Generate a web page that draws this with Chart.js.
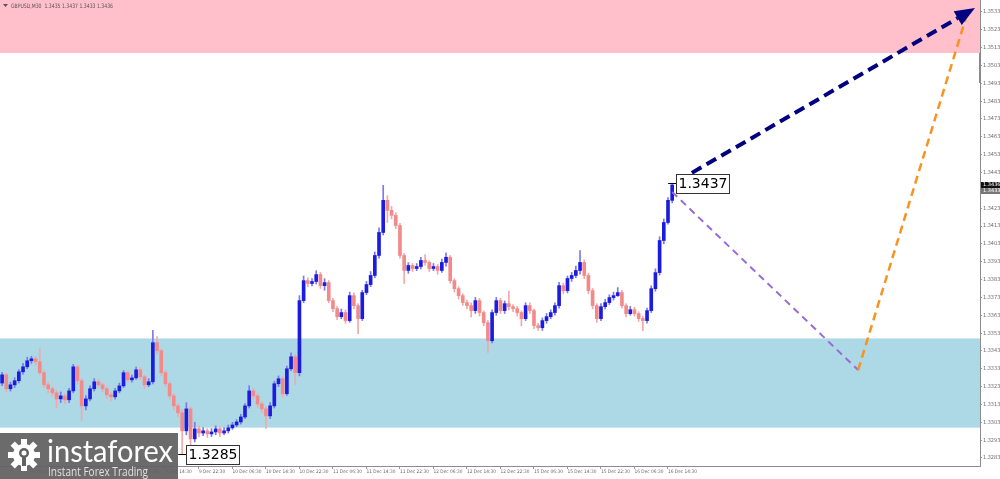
<!DOCTYPE html>
<html>
<head>
<meta charset="utf-8">
<script src="https://cdn.jsdelivr.net/npm/chart.js@4.4.1/dist/chart.umd.min.js"></script>
<style>
  html, body { margin: 0; padding: 0; background: #fff; }
  #wrap { width: 1000px; height: 479px; }
</style>
</head>
<body>
<div id="wrap"><canvas id="chart" width="1000" height="479"></canvas></div>
<script>
// GBPUSD candles (one per hour)
const opens = [
  1.33250,1.33296,1.33218,1.33240,1.33263,1.33313,1.33341,1.33375,1.33386,1.33369,
  1.33308,1.33240,1.33218,1.33195,1.33161,1.33178,1.33156,1.33206,1.33341,1.33263,
  1.33122,1.33161,1.33218,1.33257,1.33240,1.33218,1.33184,1.33173,1.33206,1.33234,
  1.33308,1.33268,1.33279,1.33324,1.33285,1.33240,1.33257,1.33476,1.33431,1.33308,
  1.33246,1.33178,1.33122,1.33083,1.32982,1.33105,1.32937,1.32993,1.32970,1.32982,
  1.32965,1.32976,1.32993,1.32970,1.32982,1.32999,1.33015,1.33032,1.33060,1.33122,
  1.33206,1.33178,1.33133,1.33105,1.33066,1.33122,1.33246,1.33274,1.33190,1.33330,
  1.33397,1.33308,1.33712,1.33824,1.33808,1.33819,1.33858,1.33796,1.33813,1.33712,
  1.33667,1.33622,1.33645,1.33600,1.33740,1.33684,1.33611,1.33757,1.33802,1.33853,
  1.33965,1.34094,1.34274,1.34218,1.34190,1.34133,1.33965,1.33881,1.33909,1.33892,
  1.33903,1.33937,1.33926,1.33892,1.33903,1.33881,1.33926,1.33955,1.33824,1.33779,
  1.33740,1.33701,1.33684,1.33656,1.33712,1.33645,1.33588,1.33487,1.33645,1.33712,
  1.33656,1.33695,1.33678,1.33667,1.33645,1.33611,1.33684,1.33656,1.33572,1.33560,
  1.33600,1.33622,1.33645,1.33684,1.33796,1.33768,1.33836,1.33853,1.33881,1.33926,
  1.33853,1.33768,1.33684,1.33611,1.33678,1.33701,1.33729,1.33740,1.33757,1.33684,
  1.33639,1.33661,1.33639,1.33611,1.33600,1.33656,1.33779,1.33869,1.34049,1.34150,
  1.34274
];
const highs = [
  1.33310,1.33305,1.33255,1.33280,1.33325,1.33360,1.33395,1.33400,1.33400,1.33445,
  1.33320,1.33255,1.33230,1.33210,1.33200,1.33190,1.33220,1.33355,1.33350,1.33275,
  1.33180,1.33235,1.33275,1.33270,1.33250,1.33230,1.33200,1.33220,1.33250,1.33320,
  1.33318,1.33295,1.33340,1.33335,1.33295,1.33275,1.33545,1.33510,1.33440,1.33320,
  1.33255,1.33190,1.33135,1.33100,1.33140,1.33115,1.33030,1.33010,1.33000,1.32995,
  1.32995,1.33010,1.33005,1.33000,1.33015,1.33030,1.33045,1.33075,1.33135,1.33235,
  1.33220,1.33190,1.33145,1.33120,1.33140,1.33260,1.33290,1.33285,1.33345,1.33420,
  1.33410,1.33740,1.33850,1.33840,1.33835,1.33880,1.33870,1.33835,1.33825,1.33725,
  1.33680,1.33665,1.33660,1.33760,1.33755,1.33695,1.33770,1.33820,1.33875,1.33985,
  1.34120,1.34358,1.34300,1.34240,1.34205,1.34145,1.33975,1.33925,1.33920,1.33920,
  1.33955,1.33970,1.33935,1.33920,1.33915,1.33945,1.33980,1.33965,1.33835,1.33790,
  1.33750,1.33715,1.33700,1.33730,1.33725,1.33655,1.33600,1.33660,1.33730,1.33725,
  1.33710,1.33765,1.33690,1.33680,1.33655,1.33700,1.33700,1.33665,1.33585,1.33615,
  1.33640,1.33660,1.33700,1.33815,1.33810,1.33850,1.33870,1.33905,1.33993,1.33940,
  1.33865,1.33780,1.33695,1.33695,1.33720,1.33745,1.33760,1.33785,1.33770,1.33695,
  1.33680,1.33675,1.33650,1.33625,1.33670,1.33795,1.33890,1.34070,1.34170,1.34290,
  1.34370
];
const lows = [
  1.33235,1.33200,1.33205,1.33225,1.33250,1.33300,1.33330,1.33360,1.33350,1.33295,
  1.33225,1.33195,1.33175,1.33110,1.33140,1.33135,1.33140,1.33195,1.33245,1.33040,
  1.33100,1.33150,1.33205,1.33225,1.33200,1.33165,1.33150,1.33160,1.33195,1.33225,
  1.33255,1.33255,1.33270,1.33270,1.33220,1.33230,1.33245,1.33410,1.33290,1.33230,
  1.33160,1.33100,1.33060,1.32850,1.32960,1.32890,1.32920,1.32950,1.32955,1.32945,
  1.32950,1.32960,1.32950,1.32960,1.32970,1.32990,1.33005,1.33020,1.33050,1.33110,
  1.33160,1.33115,1.33085,1.32995,1.33050,1.33110,1.33230,1.33170,1.33180,1.33320,
  1.33240,1.33290,1.33700,1.33790,1.33795,1.33805,1.33780,1.33770,1.33700,1.33650,
  1.33605,1.33610,1.33585,1.33590,1.33665,1.33527,1.33600,1.33745,1.33790,1.33840,
  1.33950,1.34080,1.34150,1.34170,1.34115,1.33950,1.33808,1.33865,1.33875,1.33880,
  1.33890,1.33910,1.33875,1.33880,1.33860,1.33870,1.33905,1.33810,1.33760,1.33720,
  1.33685,1.33665,1.33620,1.33640,1.33625,1.33570,1.33420,1.33475,1.33630,1.33640,
  1.33640,1.33660,1.33650,1.33625,1.33570,1.33600,1.33640,1.33555,1.33545,1.33545,
  1.33585,1.33610,1.33630,1.33670,1.33750,1.33755,1.33820,1.33840,1.33860,1.33835,
  1.33750,1.33665,1.33590,1.33600,1.33665,1.33690,1.33715,1.33735,1.33670,1.33620,
  1.33630,1.33625,1.33595,1.33544,1.33585,1.33645,1.33765,1.33855,1.34030,1.34140,
  1.34260
];
const closes = [
  1.33296,1.33218,1.33240,1.33263,1.33313,1.33341,1.33375,1.33386,1.33369,1.33308,
  1.33240,1.33218,1.33195,1.33161,1.33178,1.33156,1.33206,1.33341,1.33263,1.33122,
  1.33161,1.33218,1.33257,1.33240,1.33218,1.33184,1.33173,1.33206,1.33234,1.33308,
  1.33268,1.33279,1.33324,1.33285,1.33240,1.33257,1.33476,1.33431,1.33308,1.33246,
  1.33178,1.33122,1.33083,1.32982,1.33105,1.32937,1.32993,1.32970,1.32982,1.32965,
  1.32976,1.32993,1.32970,1.32982,1.32999,1.33015,1.33032,1.33060,1.33122,1.33206,
  1.33178,1.33133,1.33105,1.33066,1.33122,1.33246,1.33274,1.33190,1.33330,1.33397,
  1.33308,1.33712,1.33824,1.33808,1.33819,1.33858,1.33796,1.33813,1.33712,1.33667,
  1.33622,1.33645,1.33600,1.33740,1.33684,1.33611,1.33757,1.33802,1.33853,1.33965,
  1.34094,1.34274,1.34218,1.34190,1.34133,1.33965,1.33881,1.33909,1.33892,1.33903,
  1.33937,1.33926,1.33892,1.33903,1.33881,1.33926,1.33955,1.33824,1.33779,1.33740,
  1.33701,1.33684,1.33656,1.33712,1.33645,1.33588,1.33487,1.33645,1.33712,1.33656,
  1.33695,1.33678,1.33667,1.33645,1.33611,1.33684,1.33656,1.33572,1.33560,1.33600,
  1.33622,1.33645,1.33684,1.33796,1.33768,1.33836,1.33853,1.33881,1.33926,1.33853,
  1.33768,1.33684,1.33611,1.33678,1.33701,1.33729,1.33740,1.33757,1.33684,1.33639,
  1.33661,1.33639,1.33611,1.33600,1.33656,1.33779,1.33869,1.34049,1.34150,1.34274,
  1.34360
];

// slots on the time axis (candles + empty space on the right for the forecast)
const slotCount = 234;
const timeTickIndex = [7, 15, 23, 31, 39, 47, 55, 63, 71, 79, 87, 95, 103, 111, 119, 127, 135, 143, 151, 159];
const timeTickText = ['8 Dec 06:30', '8 Dec 14:30', '8 Dec 22:30', '9 Dec 06:30', '9 Dec 14:30', '9 Dec 22:30',
  '10 Dec 06:30', '10 Dec 14:30', '10 Dec 22:30', '11 Dec 06:30', '11 Dec 14:30', '11 Dec 22:30',
  '12 Dec 06:30', '12 Dec 14:30', '12 Dec 22:30', '15 Dec 06:30', '15 Dec 14:30', '15 Dec 22:30',
  '16 Dec 06:30', '16 Dec 14:30'];
const priceTicks = [1.3283, 1.3293, 1.3303, 1.3313, 1.3323, 1.3333, 1.3343, 1.3353, 1.3363, 1.3373,
  1.3383, 1.3393, 1.3403, 1.3413, 1.3423, 1.3433, 1.3443, 1.3453, 1.3463, 1.3473,
  1.3483, 1.3493, 1.3503, 1.3513, 1.3523, 1.3533];
const priceMin = 1.32785;
const priceMax = 1.35397;

// zones and forecast waves: [slot index, price]
const resistanceZone = [1.3510, 1.35397];
const supportZone = [1.3300, 1.3350];
const mainWave = [[161.2, 1.34380], [232.3, 1.35352]];
const correctionWave = [[160, 1.34321], [204.4, 1.33323]];
const impulseWave = [[204.4, 1.33323], [230.2, 1.35302]];
const markedHigh = { index: 160, text: '1.3437' };
const markedLow = { index: 43, text: '1.3285' };

const header = 'GBPUSD,M30  1.3435 1.3437 1.3433 1.3436';
const lastPrice = 1.3436;

const labels = Array.from({ length: slotCount }, (_, i) => {
  const k = timeTickIndex.indexOf(i);
  return k >= 0 ? timeTickText[k] : '';
});

const BULL = '#1c1ce0';
const BEAR = '#f28a8a';
const BULL_WICK = '#7b7be8';
const BEAR_WICK = '#f5a8a8';
const isBull = i => closes[i] >= opens[i];

const overlay = {
  id: 'overlay',
  beforeDatasetsDraw(chart) {
    const { ctx, chartArea: a, scales: { y } } = chart;
    ctx.save();
    ctx.fillStyle = '#ffc0cb';
    let t = y.getPixelForValue(resistanceZone[1]), b = y.getPixelForValue(resistanceZone[0]);
    ctx.fillRect(a.left, t, a.right - a.left, b - t);
    ctx.fillStyle = '#add8e6';
    t = y.getPixelForValue(supportZone[1]); b = y.getPixelForValue(supportZone[0]);
    ctx.fillRect(a.left, t, a.right - a.left, b - t);
    ctx.restore();
  },
  afterDatasetsDraw(chart) {
    const { ctx, chartArea: a, scales: { x, y } } = chart;
    const pt = p => [x.getPixelForValue(p[0]), y.getPixelForValue(p[1])];
    ctx.save();

    // correction wave (purple) and impulse wave (orange)
    const dashed = (w, color, width, dash) => {
      const [x0, y0] = pt(w[0]), [x1, y1] = pt(w[1]);
      ctx.strokeStyle = color; ctx.lineWidth = width; ctx.setLineDash(dash);
      ctx.beginPath(); ctx.moveTo(x0, y0); ctx.lineTo(x1, y1); ctx.stroke();
    };
    dashed(correctionWave, '#9a6ad8', 2, [7, 5]);
    dashed(impulseWave, '#f7931e', 2.5, [8, 5]);

    // main wave with arrow head
    const [mx0, my0] = pt(mainWave[0]), [mx1, my1] = pt(mainWave[1]);
    const ang = Math.atan2(my1 - my0, mx1 - mx0);
    const headLen = 20, headW = 8;
    const bx = mx1 - headLen * Math.cos(ang), by = my1 - headLen * Math.sin(ang);
    ctx.strokeStyle = '#000080'; ctx.lineWidth = 4; ctx.setLineDash([11, 6]);
    ctx.beginPath(); ctx.moveTo(mx0, my0); ctx.lineTo(bx, by); ctx.stroke();
    ctx.setLineDash([]);
    ctx.fillStyle = '#000080';
    ctx.beginPath();
    ctx.moveTo(mx1, my1);
    ctx.lineTo(bx + headW * Math.sin(ang), by - headW * Math.cos(ang));
    ctx.lineTo(bx - headW * Math.sin(ang), by + headW * Math.cos(ang));
    ctx.closePath(); ctx.fill();

    // price callouts
    const callout = (idx, price, text) => {
      const px = x.getPixelForValue(idx), py = y.getPixelForValue(price);
      ctx.strokeStyle = '#000'; ctx.lineWidth = 1;
      ctx.beginPath(); ctx.moveTo(px - 4, Math.round(py) + 0.5); ctx.lineTo(px + 4, Math.round(py) + 0.5); ctx.stroke();
      ctx.font = '14px "DejaVu Sans"';
      const w = ctx.measureText(text).width + 4;
      const bx0 = Math.round(px + 4) + 0.5, by0 = Math.round(py - 9) + 0.5;
      ctx.fillStyle = '#fff'; ctx.fillRect(bx0, by0, w, 19);
      ctx.strokeStyle = '#333'; ctx.strokeRect(bx0, by0, w, 19);
      ctx.fillStyle = '#000'; ctx.textBaseline = 'middle'; ctx.textAlign = 'left';
      ctx.fillText(text, bx0 + 2, by0 + 10);
    };
    callout(markedHigh.index, highs[markedHigh.index], markedHigh.text);
    callout(markedLow.index, lows[markedLow.index], markedLow.text);

    // current price tag on the price axis
    const ly = y.getPixelForValue(lastPrice);
    ctx.fillStyle = '#111'; ctx.fillRect(a.right + 1, ly - 3, 19, 6);
    ctx.fillStyle = '#777'; ctx.fillRect(a.right + 1, ly + 3, 19, 6);
    ctx.fillStyle = '#fff'; ctx.font = '5px "DejaVu Sans"'; ctx.textAlign = 'left';
    ctx.fillText(lastPrice.toFixed(4), a.right + 3, ly);
    ctx.fillText('1.3433', a.right + 3, ly + 6);

    // chart shift marker
    ctx.fillStyle = '#8a8a8a';
    ctx.fillRect(a.right - 1, 53, 2, 30);

    // header
    ctx.fillStyle = '#555';
    ctx.beginPath(); ctx.moveTo(3, 4); ctx.lineTo(8, 4); ctx.lineTo(5.5, 7); ctx.closePath(); ctx.fill();
    ctx.font = '6px "DejaVu Sans"'; ctx.textBaseline = 'middle';
    ctx.fillText(header, 11, 6, 102);

    // instaforex badge
    ctx.fillStyle = 'rgba(98,98,98,0.94)';
    ctx.fillRect(0, 433, 178, 46);
    ctx.fillStyle = '#fff';
    const gx = 24, gy = 455;
    ctx.beginPath(); ctx.arc(gx, gy, 11, 0, Math.PI * 2); ctx.fill();
    for (let k = 0; k < 8; k++) {
      ctx.save(); ctx.translate(gx, gy); ctx.rotate(k * Math.PI / 4);
      ctx.fillRect(-3, -16, 6, 7); ctx.restore();
    }
    ctx.fillStyle = 'rgba(98,98,98,1)';
    ctx.beginPath(); ctx.arc(gx, gy - 2, 5, 0, Math.PI * 2); ctx.fill();
    ctx.fillRect(gx - 2, gy, 4, 11);
    ctx.fillStyle = '#fff';
    ctx.beginPath(); ctx.arc(gx, gy - 2, 2.5, 0, Math.PI * 2); ctx.fill();
    ctx.font = '31px Lato'; ctx.textBaseline = 'alphabetic';
    ctx.fillText('instaforex', 47, 462, 126);
    ctx.fillStyle = '#e2e2e2';
    ctx.font = '12px "Open Sans"';
    ctx.fillText('Instant Forex Trading', 48, 476, 100);
    ctx.restore();
  }
};

new Chart(document.getElementById('chart'), {
  type: 'bar',
  data: {
    labels: labels,
    datasets: [
      {
        label: 'wick',
        data: lows.map((l, i) => [l, highs[i]]),
        backgroundColor: ctx => isBull(ctx.dataIndex) ? BULL_WICK : BEAR_WICK,
        barThickness: 1,
        grouped: false,
        borderWidth: 0,
        order: 2
      },
      {
        label: 'body',
        data: opens.map((o, i) => [o, closes[i]]),
        backgroundColor: ctx => isBull(ctx.dataIndex) ? BULL : BEAR,
        barThickness: 3,
        minBarLength: 1,
        grouped: false,
        borderWidth: 0,
        order: 1
      }
    ]
  },
  options: {
    responsive: false,
    animation: false,
    layout: { padding: 0 },
    plugins: { legend: { display: false }, tooltip: { enabled: false } },
    scales: {
      x: {
        type: 'category',
        offset: true,
        grid: {
          drawOnChartArea: false,
          offset: false,
          tickLength: 3,
          color: ctx => labels[ctx.index] ? '#999' : 'rgba(0,0,0,0)'
        },
        border: { display: true, color: '#8c8c8c' },
        ticks: {
          autoSkip: false,
          maxRotation: 0,
          minRotation: 0,
          align: 'start',
          padding: 0,
          color: '#6a6a6a',
          font: { size: 4.8, family: '"DejaVu Sans Condensed", "DejaVu Sans"' },
          callback: (v, i) => labels[i]
        },
        afterFit: s => { s.height = 13; s.paddingLeft = 0; s.paddingRight = 0; }
      },
      y: {
        type: 'linear',
        position: 'right',
        min: priceMin,
        max: priceMax,
        afterBuildTicks: s => { s.ticks = priceTicks.map(v => ({ value: v })); },
        grid: { drawOnChartArea: false, tickLength: 2, color: '#999' },
        border: { display: true, color: '#8c8c8c' },
        ticks: {
          padding: 1,
          color: '#6a6a6a',
          font: { size: 5.5, family: '"DejaVu Sans Condensed", "DejaVu Sans"' },
          callback: v => v.toFixed(4)
        },
        afterFit: s => { s.width = 20; s.paddingTop = 0; s.paddingBottom = 0; }
      }
    }
  },
  plugins: [overlay]
});
</script>
</body>
</html>
